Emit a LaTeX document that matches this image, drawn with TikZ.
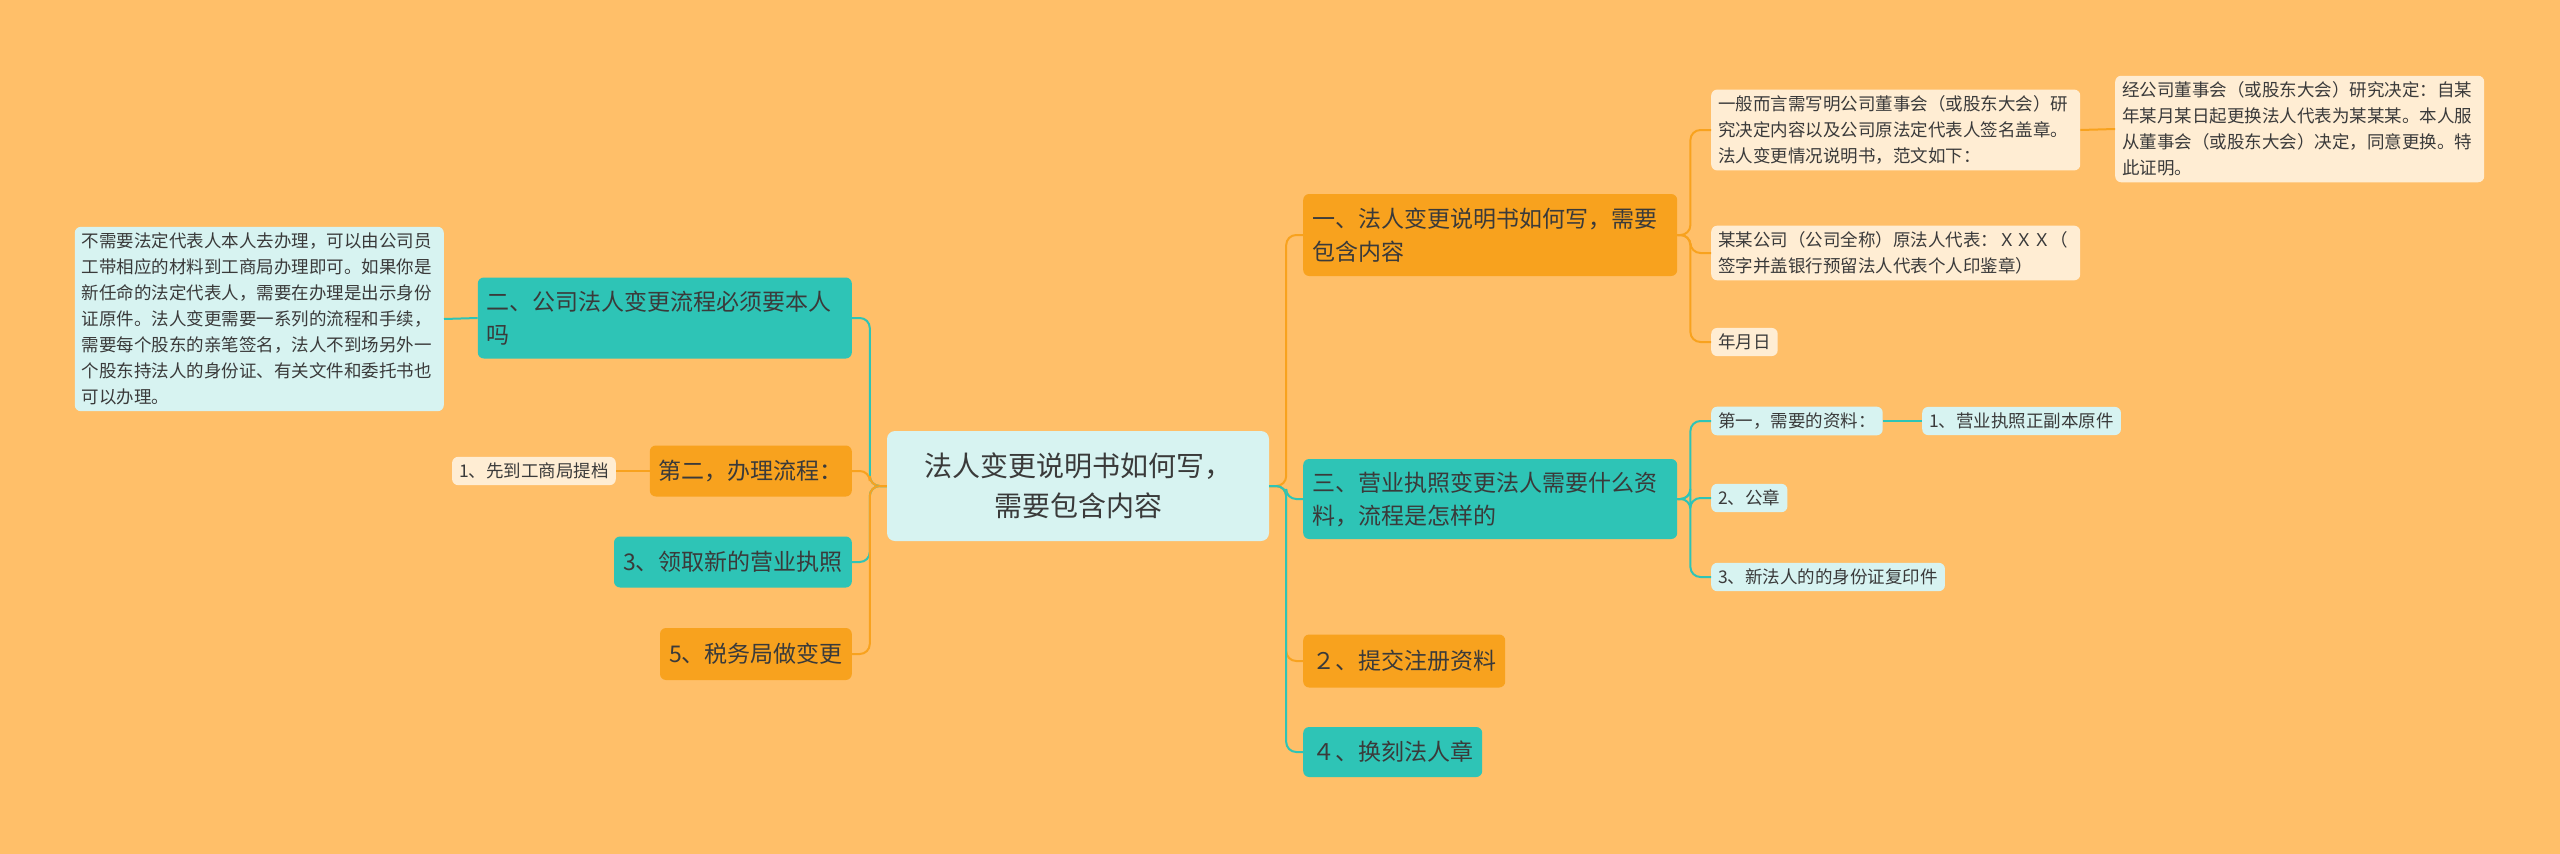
\documentclass[tikz,border=0pt]{standalone}
\usepackage{fontspec}
\setmainfont{Noto Sans CJK SC}
\definecolor{bg}{HTML}{FFBF69}
\definecolor{org}{HTML}{F8A21E}
\definecolor{teal}{HTML}{2EC4B6}
\definecolor{cyanl}{HTML}{D7F3F1}
\definecolor{cream}{HTML}{FFEDD3}
\definecolor{txt}{HTML}{3A3A3A}
\begin{document}
\begin{tikzpicture}[x=1pt,y=-1pt,
 base/.style={rounded corners=6pt,inner xsep=9pt,inner ysep=6pt,align=left,text=txt,anchor=west},
 lvA/.style={base,font=\fontsize{23}{33}\selectfont},
 obox/.style={lvA,fill=org},
 tbox/.style={lvA,fill=teal},
 lvB/.style={base,font=\fontsize{17.5}{26}\selectfont,inner xsep=7pt},
 cbox/.style={lvB,fill=cream},
 lbox/.style={lvB,fill=cyanl},
 ol/.style={draw=org,line width=2pt,rounded corners=10pt},
 tl/.style={draw=teal,line width=2pt,rounded corners=10pt}]
\useasboundingbox[fill=bg] (0,0) rectangle (2560,854);
\node[rounded corners=8pt,fill=cyanl,text=txt,align=center,font=\fontsize{28}{40}\selectfont,minimum width=382pt,minimum height=110pt] (c) at (1078,486) {法人变更说明书如何写，\\需要包含内容};
% right
\node[obox,text width=356pt,minimum height=82pt] (r1) at (1303,235) {一、法人变更说明书如何写，需要\\包含内容};
\node[tbox,text width=356pt,minimum height=80pt] (r2) at (1303,499) {三、营业执照变更法人需要什么资\\料，流程是怎样的};
\node[obox,minimum height=53pt] (r3) at (1303,661) {２、提交注册资料};
\node[tbox,minimum height=50pt] (r4) at (1303,752) {４、换刻法人章};
\draw[ol] (c.east) -- ++(17,0) |- (r1.west);
\draw[tl] (c.east) -- ++(17,0) |- (r2.west);
\draw[ol] (c.east) -- ++(17,0) |- (r3.west);
\draw[tl] (c.east) -- ++(17,0) |- (r4.west);
\node[cbox,text width=355pt] (a1) at (1711,130) {一般而言需写明公司董事会（或股东大会）研\\究决定内容以及公司原法定代表人签名盖章。\\法人变更情况说明书，范文如下：};
\node[cbox,text width=355pt] (a11) at (2115,129) {经公司董事会（或股东大会）研究决定：自某\\年某月某日起更换法人代表为某某某。本人服\\从董事会（或股东大会）决定，同意更换。特\\此证明。};
\node[cbox,text width=355pt] (a2) at (1711,253) {某某公司（公司全称）原法人代表：ＸＸＸ（\\签字并盖银行预留法人代表个人印鉴章）};
\node[cbox] (a3) at (1711,342) {年月日};
\draw[ol] (r1.east) -- ++(13,0) |- (a1.west);
\draw[ol] (r1.east) -- ++(13,0) |- (a2.west);
\draw[ol] (r1.east) -- ++(13,0) |- (a3.west);
\draw[ol] (a1.east) -- (a11.west);
\node[lbox] (b1) at (1711,421) {第一，需要的资料：};
\node[lbox] (b11) at (1922,421) {1、营业执照正副本原件};
\node[lbox] (b2) at (1711,498) {2、公章};
\node[lbox] (b3) at (1711,577) {3、新法人的的身份证复印件};
\draw[tl] (r2.east) -- ++(13,0) |- (b1.west);
\draw[tl] (r2.east) -- ++(13,0) |- (b2.west);
\draw[tl] (r2.east) -- ++(13,0) |- (b3.west);
\draw[tl] (b1.east) -- (b11.west);
% left
\node[tbox,text width=356pt,minimum height=81pt,anchor=east] (l1) at (852,318) {二、公司法人变更流程必须要本人\\吗};
\node[obox,minimum height=51pt,anchor=east] (l2) at (852,471) {第二，办理流程：};
\node[tbox,minimum height=51pt,anchor=east] (l3) at (852,562) {3、领取新的营业执照};
\node[obox,minimum height=52pt,anchor=east] (l4) at (852,654) {5、税务局做变更};
\draw[tl] (c.west) -- ++(-17,0) |- (l1.east);
\draw[ol] (c.west) -- ++(-17,0) |- (l2.east);
\draw[tl] (c.west) -- ++(-17,0) |- (l3.east);
\draw[ol] (c.west) -- ++(-17,0) |- (l4.east);
\node[lbox,text width=355pt,anchor=east] (l11) at (444,319) {不需要法定代表人本人去办理，可以由公司员\\工带相应的材料到工商局办理即可。如果你是\\新任命的法定代表人，需要在办理是出示身份\\证原件。法人变更需要一系列的流程和手续，\\需要每个股东的亲笔签名，法人不到场另外一\\个股东持法人的身份证、有关文件和委托书也\\可以办理。};
\node[cbox,anchor=east] (l21) at (616,471) {1、先到工商局提档};
\draw[tl] (l1.west) -- (l11.east);
\draw[ol] (l2.west) -- (l21.east);
\end{tikzpicture}
\end{document}
